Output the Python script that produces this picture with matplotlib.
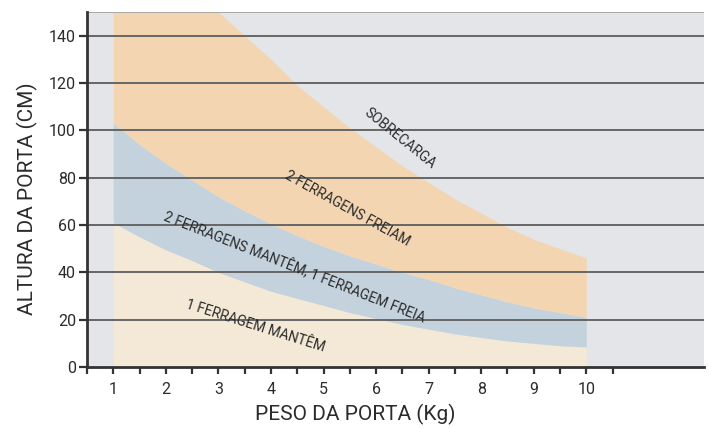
import matplotlib.pyplot as plt
import numpy as np

plt.rcParams["font.family"] = ["Roboto", "DejaVu Sans"]

# dados
peso = [1, 1.5, 2, 2.5, 3, 3.5, 4, 4.5, 5, 5.5, 6, 6.5, 7, 7.5, 8, 8.5, 9, 9.5, 10]
lim_1_mantem = [61, 55, 49.5, 45, 40, 36, 32, 29, 26, 23, 20.5, 18, 16, 14, 12.5, 11, 10, 9, 8.5]
lim_2_mantem = [103, 94, 86, 79, 72, 66, 60.5, 55.5, 51, 47, 43.5, 40, 37, 33.5, 30.5, 27.5, 25, 23, 21]
lim_2_freiam = [150, 150, 150, 150, 150, 140, 130, 119, 110, 101, 93, 85, 78, 71, 65, 59, 54, 50, 46]

y_ticks = [0, 20, 40, 60, 80, 100, 120, 140]
x_ticks = [1, 2, 3, 4, 5, 6, 7, 8, 9, 10]

c_fundo = "#e4e5e8"
c_creme = "#f4e8d6"
c_azul = "#c3d2dc"
c_laranja = "#f3d6b1"
c_texto = "#2b2b2b"

fig = plt.figure(figsize=(7.09, 4.28), dpi=100)
ax = fig.add_axes([0.1227, 0.1425, 0.8703, 0.8295])
ax.set_facecolor(c_fundo)

ax.fill_between(peso, 0, lim_1_mantem, color=c_creme, lw=0, zorder=1)
ax.fill_between(peso, lim_1_mantem, lim_2_mantem, color=c_azul, lw=0, zorder=1)
ax.fill_between(peso, lim_2_mantem, lim_2_freiam, color=c_laranja, lw=0, zorder=1)

for v in y_ticks[1:]:
    ax.axhline(v, color="#666666", lw=1.4, zorder=2)
ax.axhline(150, color="#a8a8a8", lw=1.4, zorder=2)

ax.set_xlim(0.5, 12.24)
ax.set_ylim(0, 150)

ax.set_xticks(x_ticks)
ax.set_xticks(np.arange(0.5, 11, 0.5), minor=True)
ax.set_yticks(y_ticks)
ax.tick_params(axis="both", which="both", direction="out", color="#333333",
               width=1.6, labelsize=11.5, labelcolor=c_texto)
ax.tick_params(axis="x", which="both", length=5, pad=6)
ax.tick_params(axis="y", length=6, pad=2)

for s in ["top", "right"]:
    ax.spines[s].set_visible(False)
for s in ["left", "bottom"]:
    ax.spines[s].set_color("#333333")
    ax.spines[s].set_linewidth(2)
    ax.spines[s].set_zorder(3)

ax.set_xlabel("PESO DA PORTA (Kg)", fontsize=15, color=c_texto)
ax.xaxis.set_label_coords(0.434, -0.105)
ax.set_ylabel("ALTURA DA PORTA (CM)", fontsize=15, color=c_texto)
ax.yaxis.set_label_coords(-0.08, 0.475)

kw = dict(fontsize=10, color=c_texto, ha="center", va="center", zorder=4,
          rotation_mode="anchor")
ax.text(6.45, 96.5, "SOBRECARGA", rotation=-39, **kw)
ax.text(5.46, 67, "2 FERRAGENS FREIAM", rotation=-29, **kw)
ax.text(4.45, 42, "2 FERRAGENS MANTÊM, 1 FERRAGEM FREIA", rotation=-21.5, **kw)
ax.text(3.71, 17.5, "1 FERRAGEM MANTÊM", rotation=-17.5, **kw)

fig.savefig("out.png", dpi=100)
